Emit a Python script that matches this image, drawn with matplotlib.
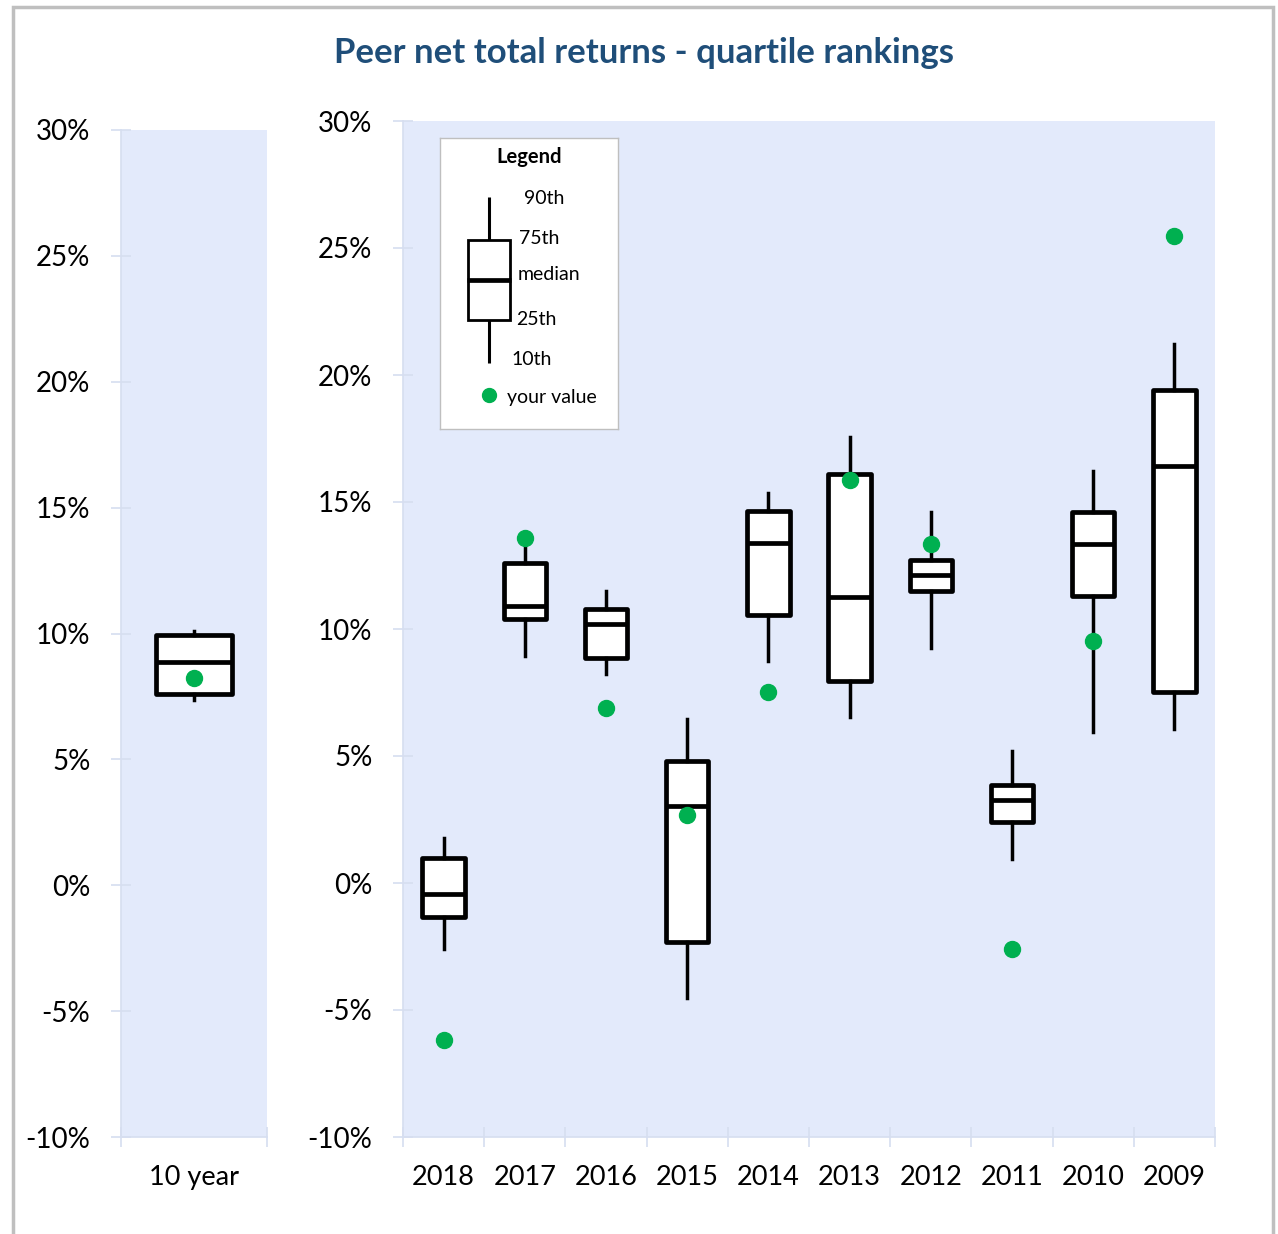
import matplotlib
matplotlib.use("Agg")
import matplotlib.pyplot as plt
from matplotlib.patches import Rectangle
from matplotlib.ticker import FuncFormatter, FixedLocator

plt.rcParams['font.family'] = ['Lato', 'DejaVu Sans']

# ---------------- data (percent) ----------------
summary_labels = ['10 year']
summary_p10 = [7.35]
summary_p25 = [7.6]
summary_median = [8.86]
summary_p75 = [9.93]
summary_p90 = [10.1]
summary_value = [8.22]

years = ['2018', '2017', '2016', '2015', '2014', '2013', '2012', '2011', '2010', '2009']
p10 = [-2.6, 8.94, 8.23, -4.53, 8.74, 6.54, 9.25, 0.94, 5.94, 6.06]
p25 = [-1.34, 10.39, 8.86, -2.32, 10.55, 7.95, 11.5, 2.4, 11.3, 7.52]
median = [-0.43, 10.9, 10.2, 3.03, 13.39, 11.26, 12.13, 3.27, 13.35, 16.42]
p75 = [0.98, 12.6, 10.79, 4.8, 14.65, 16.1, 12.72, 3.86, 14.6, 19.41]
p90 = [1.77, 13.3, 11.5, 6.46, 15.35, 17.56, 14.6, 5.2, 16.22, 21.22]
your_value = [-6.18, 13.58, 6.89, 2.68, 7.52, 15.87, 13.35, -2.6, 9.53, 25.47]

y_ticks = [-10, -5, 0, 5, 10, 15, 20, 25, 30]

# ---------------- style ----------------
W, H = 1278, 1234
BG = '#E3EAFB'
TICKC = '#D6DEF0'
GREEN = '#00B050'
TITLE_C = '#1F4E79'

fig = plt.figure(figsize=(W / 100, H / 100), dpi=100)

def px_axes(x0, y0, x1, y1):
    return fig.add_axes([x0 / W, 1 - y1 / H, (x1 - x0) / W, (y1 - y0) / H])

ax_l = px_axes(121, 130, 267, 1137)
ax_r = px_axes(403, 121, 1215, 1137)

def draw(ax, labels, lo, q1, med, q3, hi, val):
    pos = list(range(len(labels)))
    stats = [dict(med=m, q1=a, q3=b, whislo=l, whishi=h, fliers=[])
             for l, a, m, b, h in zip(lo, q1, med, q3, hi)]
    ax.bxp(stats, positions=pos, widths=0.52, patch_artist=True,
           showcaps=False, showfliers=False,
           boxprops=dict(facecolor='white', edgecolor='black', linewidth=3.4, joinstyle='round'),
           medianprops=dict(color='black', linewidth=3.4),
           whiskerprops=dict(color='black', linewidth=2.5))
    ax.plot(pos, val, 'o', color=GREEN, ms=11.5, zorder=5, linestyle='none')
    ax.set_xlim(-0.5, len(labels) - 0.5)
    ax.set_ylim(-10, 30)
    ax.set_facecolor(BG)
    for s in ['top', 'right']:
        ax.spines[s].set_visible(False)
    for s in ['left', 'bottom']:
        ax.spines[s].set_color(TICKC)
        ax.spines[s].set_linewidth(1.2)
    ax.yaxis.set_major_locator(FixedLocator(y_ticks))
    ax.yaxis.set_major_formatter(FuncFormatter(lambda v, p: f'{v:.0f}%'))
    ax.tick_params(axis='y', direction='inout', length=14, width=1.2,
                   color=TICKC, pad=15, labelsize=20)
    ax.set_xticks(pos)
    ax.set_xticklabels(labels)
    ax.set_xticks([p - 0.5 for p in pos] + [pos[-1] + 0.5], minor=True)
    ax.tick_params(axis='x', which='major', length=0, pad=20, labelsize=19.5)
    ax.tick_params(axis='x', which='minor', direction='inout', length=14,
                   width=1.2, color=TICKC)

draw(ax_l, summary_labels, summary_p10, summary_p25, summary_median,
     summary_p75, summary_p90, summary_value)
draw(ax_r, years, p10, p25, median, p75, p90, your_value)

# ---------------- title ----------------
fig.text(644 / W, 1 - 53 / H, 'Peer net total returns - quartile rankings',
         ha='center', va='center', fontsize=25, fontweight='bold', color=TITLE_C)

# ---------------- legend ----------------
lg = px_axes(440, 138, 618, 429)
lg.set_xlim(0, 178)
lg.set_ylim(291, 0)
lg.set_xticks([])
lg.set_yticks([])
lg.set_facecolor('white')
for s in lg.spines.values():
    s.set_color('#BFBFBF')
    s.set_linewidth(1.0)
lg.text(89, 19, 'Legend', ha='center', va='center', fontsize=14.5, fontweight='bold')
lg.plot([49, 49], [59, 102], color='black', lw=2.2, solid_capstyle='butt')
lg.plot([49, 49], [182, 225], color='black', lw=2.2, solid_capstyle='butt')
lg.add_patch(Rectangle((28, 102), 42, 80, facecolor='white', edgecolor='black', lw=2.0))
lg.plot([27, 71], [142, 142], color='black', lw=3.4, solid_capstyle='butt')
lg.plot([49], [257], 'o', color=GREEN, ms=10)
lfs = 14
lg.text(84, 61, '90th', va='center', ha='left', fontsize=lfs)
lg.text(79, 101, '75th', va='center', ha='left', fontsize=lfs)
lg.text(78, 137, 'median', va='center', ha='left', fontsize=lfs)
lg.text(76, 181, '25th', va='center', ha='left', fontsize=lfs)
lg.text(71, 221, '10th', va='center', ha='left', fontsize=lfs)
lg.text(67, 259, 'your value', va='center', ha='left', fontsize=lfs)

# ---------------- outer frame ----------------
fig.patches.append(Rectangle((13 / W, -0.02), (1273 - 13) / W, 1 - 7 / H + 0.02,
                             transform=fig.transFigure, fill=False,
                             edgecolor='#BFBFBF', linewidth=2.5))

fig.savefig('out.png', dpi=100)
